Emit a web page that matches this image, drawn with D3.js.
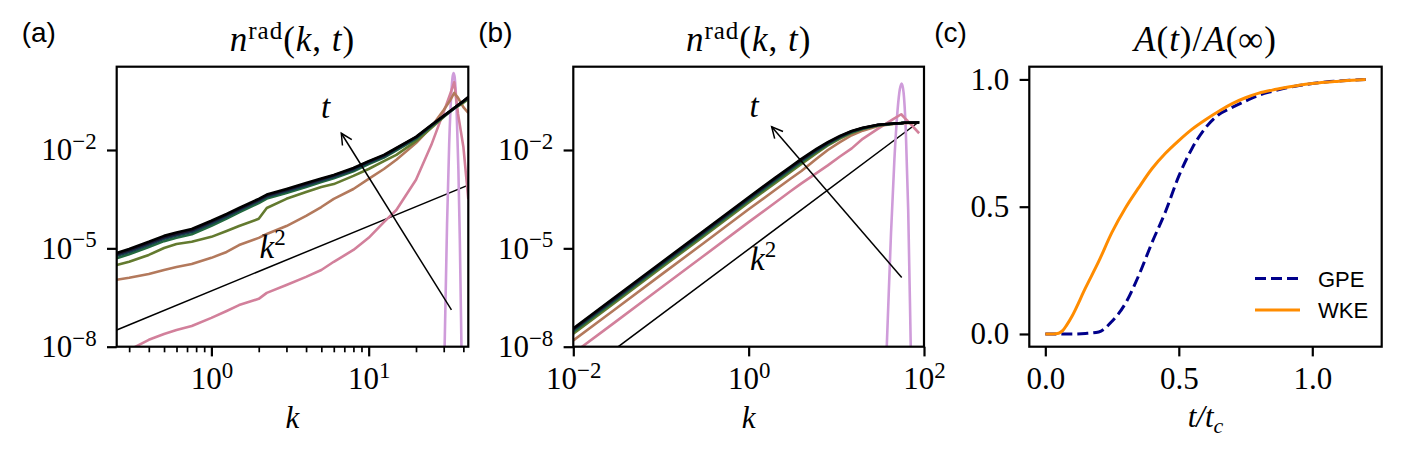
<!DOCTYPE html>
<html>
<head>
<meta charset="utf-8">
<script src="https://cdnjs.cloudflare.com/ajax/libs/d3/7.8.5/d3.min.js"></script>
<style>
  body { margin: 0; background: #fff; }
  svg { display: block; }
</style>
</head>
<body>
<svg id="fig"></svg>
<script>
// values

// panel (a): n_rad(k,t), several times (earliest -> latest)
var kA = [0.25, 0.3, 0.4, 0.5, 0.6, 0.75, 1, 1.25, 1.5, 2, 2.25, 3, 4, 5, 6, 8, 10, 12.5, 15, 20, 25, 30, 33, 35, 37, 40, 43];
var nA_pink  = [3.16e-9, 7.94e-9, 1.62e-8, 2.45e-8, 3.24e-8, 4.27e-8, 7.59e-8, 1.23e-7, 1.86e-7, 2.88e-7, 4.37e-7, 7.59e-7, 1.35e-6, 2.19e-6, 3.89e-6, 8.91e-6, 2.09e-5, 6.31e-5, 1.48e-4, 1.23e-3, 1.41e-2, 0.145, 0.513, 1.17, 0.126, 1.26e-2, 3.16e-4];
var nA_brown = [1.10e-6, 1.26e-6, 1.66e-6, 2.19e-6, 2.69e-6, 3.31e-6, 5.13e-6, 7.76e-6, 1.26e-5, 2.09e-5, 2.75e-5, 4.79e-5, 9.77e-5, 1.82e-4, 3.24e-4, 6.46e-4, 1.32e-3, 2.63e-3, 5.01e-3, 1.62e-2, 5.01e-2, 0.166, 0.331, 0.550, 0.389, 0.204, 0.135];
var nA_olive = [3.09e-6, 3.89e-6, 6.31e-6, 1.02e-5, 1.35e-5, 1.58e-5, 2.24e-5, 3.39e-5, 4.79e-5, 7.94e-5, 1.70e-4, 3.24e-4, 5.25e-4, 7.41e-4, 9.12e-4, 1.62e-3, 2.63e-3, 4.57e-3, 7.08e-3, 1.86e-2, 4.68e-2, 0.102, 0.151, 0.191, 0.219, 0.275, 0.355];
var nA_green = [5.01e-6, 6.61e-6, 1.10e-5, 1.66e-5, 2.09e-5, 2.69e-5, 4.90e-5, 8.13e-5, 1.26e-4, 2.40e-4, 3.31e-4, 4.90e-4, 7.41e-4, 1.05e-3, 1.38e-3, 2.24e-3, 3.72e-3, 5.89e-3, 9.77e-3, 2.19e-2, 5.25e-2, 0.105, 0.148, 0.186, 0.229, 0.295, 0.380];
var nA_teal  = [5.89e-6, 7.76e-6, 1.29e-5, 1.95e-5, 2.45e-5, 3.16e-5, 5.75e-5, 9.33e-5, 1.45e-4, 2.75e-4, 3.72e-4, 5.50e-4, 8.32e-4, 1.17e-3, 1.51e-3, 2.45e-3, 4.07e-3, 6.31e-3, 1.05e-2, 2.34e-2, 5.50e-2, 0.107, 0.151, 0.186, 0.229, 0.302, 0.398];
var nA_navy  = [6.61e-6, 8.71e-6, 1.45e-5, 2.19e-5, 2.75e-5, 3.55e-5, 6.46e-5, 1.05e-4, 1.58e-4, 3.02e-4, 4.07e-4, 6.03e-4, 9.12e-4, 1.29e-3, 1.66e-3, 2.69e-3, 4.37e-3, 6.76e-3, 1.12e-2, 2.45e-2, 5.62e-2, 0.110, 0.155, 0.191, 0.234, 0.309, 0.407];
var nA_black = [7.24e-6, 9.55e-6, 1.58e-5, 2.40e-5, 3.02e-5, 3.89e-5, 6.92e-5, 1.12e-4, 1.70e-4, 3.24e-4, 4.37e-4, 6.46e-4, 9.77e-4, 1.35e-3, 1.74e-3, 2.82e-3, 4.57e-3, 7.08e-3, 1.15e-2, 2.51e-2, 5.75e-2, 0.110, 0.155, 0.191, 0.234, 0.309, 0.417];
var kA_spike = [29.5, 30.4, 31.5, 32.5, 33.5, 34.2, 34.7, 35.3, 36.2, 37.2, 38, 38.9, 40];
var nA_spike = [1e-12, 1e-8, 5.37e-5, 1.48e-2, 0.50, 1.74, 2.24, 1.51, 0.19, 2.45e-3, 1.58e-5, 1e-8, 1e-12];
var kA_ref = [0.25, 43];
var nA_ref = [3.24e-8, 8.5e-4];

// panel (b)
var kB = [0.01, 0.03, 0.1, 0.3, 1, 2, 3, 4, 6, 8, 11, 15, 20, 30, 45, 55, 60, 70, 88];
var nB_pink  = [6.31e-9, 5.62e-8, 6.31e-7, 5.62e-6, 6.31e-5, 2.45e-4, 5.50e-4, 9.55e-4, 2.0e-3, 3.39e-3, 6.31e-3, 1.12e-2, 2.19e-2, 4.47e-2, 8.91e-2, 0.123, 9.55e-2, 6.31e-2, 3.24e-2];
var nB_brown = [1.55e-8, 1.38e-7, 1.55e-6, 1.38e-5, 1.55e-4, 6.03e-4, 1.32e-3, 2.29e-3, 5.50e-3, 1.00e-2, 1.74e-2, 2.82e-2, 3.89e-2, 5.37e-2, 6.17e-2, 6.46e-2, 6.61e-2, 6.68e-2, 6.76e-2];
var nB_olive = [2.51e-8, 2.24e-7, 2.51e-6, 2.24e-5, 2.51e-4, 9.77e-4, 2.14e-3, 3.72e-3, 8.13e-3, 1.38e-2, 2.24e-2, 3.31e-2, 4.37e-2, 5.62e-2, 6.31e-2, 6.61e-2, 6.76e-2, 6.76e-2, 6.92e-2];
var nB_green = [2.88e-8, 2.57e-7, 2.88e-6, 2.57e-5, 2.88e-4, 1.12e-3, 2.45e-3, 4.27e-3, 9.12e-3, 1.48e-2, 2.40e-2, 3.47e-2, 4.47e-2, 5.75e-2, 6.31e-2, 6.61e-2, 6.76e-2, 6.76e-2, 6.92e-2];
var nB_teal  = [3.16e-8, 2.82e-7, 3.16e-6, 2.82e-5, 3.16e-4, 1.23e-3, 2.69e-3, 4.68e-3, 9.77e-3, 1.58e-2, 2.51e-2, 3.63e-2, 4.57e-2, 5.75e-2, 6.46e-2, 6.61e-2, 6.76e-2, 6.76e-2, 6.92e-2];
var nB_navy  = [3.39e-8, 3.02e-7, 3.39e-6, 3.02e-5, 3.39e-4, 1.32e-3, 2.88e-3, 5.01e-3, 1.05e-2, 1.66e-2, 2.57e-2, 3.72e-2, 4.68e-2, 5.89e-2, 6.46e-2, 6.61e-2, 6.76e-2, 6.76e-2, 6.92e-2];
var nB_black = [3.63e-8, 3.27e-7, 3.63e-6, 3.27e-5, 3.63e-4, 1.41e-3, 3.09e-3, 5.37e-3, 1.10e-2, 1.74e-2, 2.69e-2, 3.80e-2, 4.79e-2, 5.89e-2, 6.46e-2, 6.61e-2, 6.76e-2, 6.84e-2, 6.92e-2];
var kB_spike = [35, 37.6, 42, 46, 50, 53, 55.7, 58.5, 62, 66, 70.6, 74];
var nB_spike = [1e-10, 1e-8, 2.69e-5, 5.37e-3, 0.17, 0.708, 1.07, 0.562, 3.89e-2, 1.55e-4, 1e-8, 1e-11];
var kB_ref = [0.0326, 88.5];
var nB_ref = [1.0e-8, 7.4e-2];

// panel (c): A(t)/A(inf)
var tGPE = [0, 0.05, 0.1, 0.15, 0.2, 0.25, 0.3, 0.35, 0.4, 0.45, 0.5, 0.55, 0.6, 0.65, 0.7, 0.75, 0.8, 0.85, 0.9, 0.95, 1.0, 1.05, 1.1, 1.15, 1.2];
var aGPE = [0, 0, 0, 0.002, 0.008, 0.05, 0.12, 0.23, 0.36, 0.48, 0.62, 0.73, 0.81, 0.862, 0.89, 0.915, 0.938, 0.953, 0.966, 0.976, 0.984, 0.99, 0.994, 0.997, 1.0];
var tWKE = [0, 0.03, 0.05, 0.065, 0.08, 0.1, 0.15, 0.2, 0.25, 0.3, 0.35, 0.4, 0.45, 0.5, 0.55, 0.6, 0.65, 0.7, 0.75, 0.8, 0.85, 0.9, 0.95, 1.0, 1.05, 1.1, 1.15, 1.2];
var aWKE = [0, 0, 0.003, 0.013, 0.035, 0.07, 0.18, 0.285, 0.40, 0.495, 0.575, 0.65, 0.71, 0.76, 0.805, 0.842, 0.875, 0.905, 0.928, 0.946, 0.958, 0.968, 0.977, 0.984, 0.989, 0.993, 0.997, 1.0];

// ticks and labels
var yTicksLog = [1e-8, 1e-5, 1e-2];
var xTicksA = [1, 10];
var xTicksB = [1e-2, 1, 1e2];
var ticksC = [0, 0.5, 1];
var panelLabels = ["(a)", "(b)", "(c)"];
var legendLabels = ["GPE", "WKE"];

// ---------------------------------------------------------------
var SERIF = '"Liberation Serif", "DejaVu Serif", serif';
var SANS = '"Liberation Sans", Arial, sans-serif';
var W = 1401, H = 457;

var svg = d3.select("#fig").attr("width", W).attr("height", H);
svg.append("rect").attr("width", W).attr("height", H).attr("fill", "#fff");

var defs = svg.append("defs");
defs.append("marker")
  .attr("id", "head")
  .attr("viewBox", "-13 -8 15 16")
  .attr("refX", 0).attr("refY", 0)
  .attr("markerWidth", 15).attr("markerHeight", 16)
  .attr("markerUnits", "userSpaceOnUse")
  .attr("orient", "auto")
  .append("path")
  .attr("d", "M-11,-5.5 L0,0 L-11,5.5")
  .attr("fill", "none")
  .attr("stroke", "#000")
  .attr("stroke-width", 1.5);

var boxA = {left: 116.7, right: 468.3, top: 66.7, bottom: 346.7};
var boxB = {left: 573.3, right: 924, top: 66.7, bottom: 346.7};
var boxC = {left: 1029.3, right: 1381.7, top: 66.7, bottom: 346.7};

var xA = d3.scaleLog().domain([0.25, 43]).range([boxA.left, boxA.right]);
var yA = d3.scaleLog().domain([1e-8, 3.47]).range([boxA.bottom, boxA.top]);
var xB = d3.scaleLog().domain([1e-2, 1e2]).range([boxB.left, boxB.right]);
var yB = d3.scaleLog().domain([1e-8, 3.47]).range([boxB.bottom, boxB.top]);
var xC = d3.scaleLinear().domain([-0.06, 1.26]).range([boxC.left, boxC.right]);
var yC = d3.scaleLinear().domain([-0.05, 1.05]).range([boxC.bottom, boxC.top]);

var clipN = 0;
function makePanel(box) {
  var id = "clip" + (clipN++);
  defs.append("clipPath").attr("id", id).append("rect")
    .attr("x", box.left).attr("y", box.top)
    .attr("width", box.right - box.left).attr("height", box.bottom - box.top);
  var g = svg.append("g");
  var plot = g.append("g").attr("clip-path", "url(#" + id + ")");
  return {g: g, plot: plot};
}

function powLabel(sel) {
  sel.each(function (d) {
    var t = d3.select(this).text(null);
    var e = Math.round(Math.log10(d));
    t.append("tspan").text("10");
    t.append("tspan").attr("font-size", "0.74em").attr("dy", "-0.5em")
      .text(e < 0 ? "\u2212" + (-e) : String(e));
  });
}

function fixedLabel(sel) {
  sel.text(function (d) { return d3.format(".1f")(d); });
}

function styleAxis(axg) {
  axg.select(".domain").remove();
  axg.selectAll(".tick line").attr("stroke", "#000").attr("stroke-width", 2.2);
  axg.selectAll(".tick text")
    .attr("fill", "#000")
    .style("font-family", SERIF)
    .style("font-size", "31px");
}

function drawAxes(g, box, x, y, xt, yt, labelX, labelY, minorX) {
  if (minorX) {
    var mg = g.append("g").attr("transform", "translate(0," + box.bottom + ")")
      .call(d3.axisBottom(x).tickValues(minorX).tickSize(5.6).tickFormat(function () { return ""; }));
    mg.select(".domain").remove();
    mg.selectAll(".tick line").attr("stroke", "#000").attr("stroke-width", 1.7);
  }
  var bx = g.append("g").attr("transform", "translate(0," + box.bottom + ")")
    .call(d3.axisBottom(x).tickValues(xt).tickSize(9.7).tickFormat(function () { return ""; }));
  styleAxis(bx);
  bx.selectAll(".tick text").attr("y", 42.5).attr("dy", 0).call(labelX);

  var ly = g.append("g").attr("transform", "translate(" + box.left + ",0)")
    .call(d3.axisLeft(y).tickValues(yt).tickSize(9.7).tickFormat(function () { return ""; }));
  styleAxis(ly);
  ly.selectAll(".tick text").attr("x", -20).attr("dy", 10).call(labelY);

  g.append("rect")
    .attr("x", box.left).attr("y", box.top)
    .attr("width", box.right - box.left).attr("height", box.bottom - box.top)
    .attr("fill", "none").attr("stroke", "#000").attr("stroke-width", 2.2);
}

function titleN(g, box) {
  var t = g.append("text")
    .attr("x", (box.left + box.right) / 2).attr("y", 51)
    .attr("text-anchor", "middle")
    .style("font-family", SERIF).style("font-size", "35px")
    .style("letter-spacing", "1px");
  t.append("tspan").style("font-style", "italic").text("n");
  t.append("tspan").attr("font-size", "25px").attr("dy", -12).text("rad");
  t.append("tspan").attr("dy", 12).text("(");
  t.append("tspan").style("font-style", "italic").text("k");
  t.append("tspan").text(", ");
  t.append("tspan").style("font-style", "italic").text("t");
  t.append("tspan").text(")");
}

function xLabelK(g, box) {
  g.append("text")
    .attr("x", (box.left + box.right) / 2).attr("y", 428)
    .attr("text-anchor", "middle")
    .style("font-family", SERIF).style("font-size", "31px").style("font-style", "italic")
    .text("k");
}

function annotate(g, x, y, tLabel, kLabel, arrow) {
  g.append("line")
    .attr("x1", x(arrow[0])).attr("y1", y(arrow[1]))
    .attr("x2", x(arrow[2])).attr("y2", y(arrow[3]))
    .attr("stroke", "#000").attr("stroke-width", 1.5)
    .attr("marker-end", "url(#head)");
  g.append("text")
    .attr("x", x(tLabel[0])).attr("y", y(tLabel[1]))
    .attr("text-anchor", "middle")
    .style("font-family", SERIF).style("font-size", "33px").style("font-style", "italic")
    .text("t");
  var k2 = g.append("text")
    .attr("x", x(kLabel[0])).attr("y", y(kLabel[1]))
    .attr("text-anchor", "middle")
    .style("font-family", SERIF).style("font-size", "33px");
  k2.append("tspan").style("font-style", "italic").text("k");
  k2.append("tspan").attr("font-size", "23px").attr("dy", -13).text("2");
}

function drawSpectra(plot, x, y, k, series, kSpike, nSpike, kRef, nRef) {
  var line = d3.line()
    .x(function (d) { return x(d[0]); })
    .y(function (d) { return y(d[1]); });
  var spikeLine = d3.line()
    .curve(d3.curveMonotoneX)
    .x(function (d) { return x(d[0]); })
    .y(function (d) { return y(d[1]); });

  plot.append("path")
    .datum(d3.zip(kRef, nRef))
    .attr("d", line)
    .attr("fill", "none").attr("stroke", "#000").attr("stroke-width", 1.5);

  plot.append("path")
    .datum(d3.zip(kSpike, nSpike))
    .attr("d", spikeLine)
    .attr("fill", "none")
    .attr("stroke", d3.interpolateCubehelixDefault(0.7))
    .attr("stroke-width", 2.6);

  plot.selectAll("path.curve")
    .data(series)
    .enter().append("path")
    .attr("class", "curve")
    .attr("d", function (s) { return line(d3.zip(k, s.n)); })
    .attr("fill", "none")
    .attr("stroke", function (s) { return d3.interpolateCubehelixDefault(s.shade); })
    .attr("stroke-width", 2.6)
    .attr("stroke-linejoin", "round");
}

// ---- panel (a)
var pa = makePanel(boxA);
drawSpectra(pa.plot, xA, yA, kA, [
  {shade: 0.61, n: nA_pink},
  {shade: 0.53, n: nA_brown},
  {shade: 0.42, n: nA_olive},
  {shade: 0.31, n: nA_green},
  {shade: 0.2, n: nA_teal},
  {shade: 0.1, n: nA_navy},
  {shade: 0.0, n: nA_black}
], kA_spike, nA_spike, kA_ref, nA_ref);
annotate(pa.g, xA, yA, [5.33, 0.0955], [2.45, 5.13e-6], [33.6, 1.32e-7, 6.7, 3.24e-2]);
var minorA = xA.ticks().filter(function (v) { return xTicksA.indexOf(v) < 0; });
drawAxes(pa.g, boxA, xA, yA, xTicksA, yTicksLog, powLabel, powLabel, minorA);
titleN(pa.g, boxA);
xLabelK(pa.g, boxA);

// ---- panel (b)
var pb = makePanel(boxB);
drawSpectra(pb.plot, xB, yB, kB, [
  {shade: 0.61, n: nB_pink},
  {shade: 0.53, n: nB_brown},
  {shade: 0.42, n: nB_olive},
  {shade: 0.31, n: nB_green},
  {shade: 0.2, n: nB_teal},
  {shade: 0.1, n: nB_navy},
  {shade: 0.0, n: nB_black}
], kB_spike, nB_spike, kB_ref, nB_ref);
annotate(pb.g, xB, yB, [1.15, 0.1035], [1.46, 2.19e-6], [55.7, 1.29e-6, 1.83, 5.13e-2]);
drawAxes(pb.g, boxB, xB, yB, xTicksB, yTicksLog, powLabel, powLabel, null);
titleN(pb.g, boxB);
xLabelK(pb.g, boxB);

// ---- panel (c)
var pc = makePanel(boxC);
var lineC = d3.line()
  .curve(d3.curveMonotoneX)
  .x(function (d) { return xC(d[0]); })
  .y(function (d) { return yC(d[1]); });
pc.plot.append("path")
  .datum(d3.zip(tGPE, aGPE))
  .attr("d", lineC)
  .attr("fill", "none").attr("stroke", "darkblue").attr("stroke-width", 3)
  .attr("stroke-dasharray", "11,5");
pc.plot.append("path")
  .datum(d3.zip(tWKE, aWKE))
  .attr("d", lineC)
  .attr("fill", "none").attr("stroke", "darkorange").attr("stroke-width", 3);
drawAxes(pc.g, boxC, xC, yC, ticksC, ticksC, fixedLabel, fixedLabel, null);

var tc = pc.g.append("text")
  .attr("x", (boxC.left + boxC.right) / 2).attr("y", 51)
  .attr("text-anchor", "middle")
  .style("font-family", SERIF).style("font-size", "35px")
  .style("letter-spacing", "1px");
tc.append("tspan").style("font-style", "italic").text("A");
tc.append("tspan").text("(");
tc.append("tspan").style("font-style", "italic").text("t");
tc.append("tspan").text(")/");
tc.append("tspan").style("font-style", "italic").text("A");
tc.append("tspan").text("(\u221E)");

var xl = pc.g.append("text")
  .attr("x", (boxC.left + boxC.right) / 2).attr("y", 427)
  .attr("text-anchor", "middle")
  .style("font-family", SERIF).style("font-size", "31px").style("font-style", "italic");
xl.append("tspan").text("t/t");
xl.append("tspan").attr("font-size", "22px").attr("dy", 6).text("c");

// legend
var legend = pc.g.append("g");
var legendStyle = [
  {color: "darkblue", dash: "11,5"},
  {color: "darkorange", dash: null}
];
legendLabels.forEach(function (name, i) {
  var yy = 278.5 + i * 31.5;
  legend.append("line")
    .attr("x1", boxC.right - 126.7).attr("x2", boxC.right - 81.7)
    .attr("y1", yy).attr("y2", yy)
    .attr("stroke", legendStyle[i].color).attr("stroke-width", 3)
    .attr("stroke-dasharray", legendStyle[i].dash);
  legend.append("text")
    .attr("x", boxC.right - 63.7).attr("y", yy + 8)
    .style("font-family", SANS).style("font-size", "22px")
    .text(name);
});

// panel letters
[boxA, boxB, boxC].forEach(function (box, i) {
  svg.append("text")
    .attr("x", box.left - 95).attr("y", 42)
    .style("font-family", SANS).style("font-size", "28px")
    .text(panelLabels[i]);
});
</script>
</body>
</html>
